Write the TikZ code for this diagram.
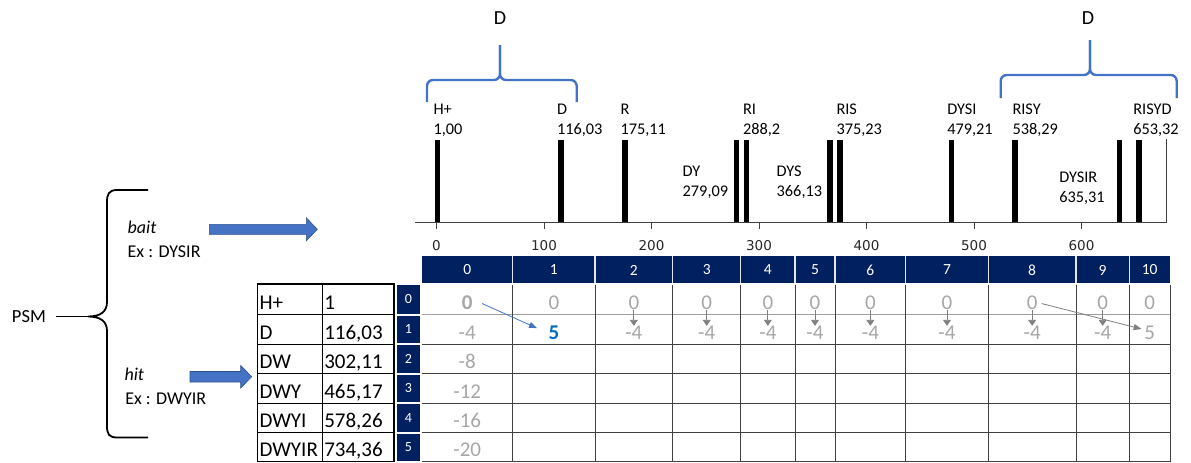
\documentclass[tikz,border=0pt]{standalone}
\usepackage{fontspec}
\setmainfont{Carlito}
\newfontfamily\tickfont{DejaVu Sans}
\usetikzlibrary{arrows.meta,calc}
\definecolor{navy}{HTML}{002060}
\definecolor{braceblue}{HTML}{4472C4}
\definecolor{arrowedge}{HTML}{2F528F}
\definecolor{valgray}{HTML}{A6A6A6}
\definecolor{arrgray}{HTML}{7F7F7F}
\definecolor{bestblue}{HTML}{0070C0}
\definecolor{gridline}{HTML}{404040}
\begin{document}
\begin{tikzpicture}[x=1pt,y=-1pt,
  every node/.style={inner sep=0pt, outer sep=0pt},
  pklabel/.style={font=\fontsize{16.3}{20}\selectfont, align=left, anchor=north west},
  peakbar/.style={fill=black},
  bluebrace/.style={draw=braceblue, line width=2.4pt, rounded corners=6pt},
  bigd/.style={font=\fontsize{20}{24}\selectfont},
  ticklbl/.style={font=\tickfont\fontsize{13.5}{16}\selectfont, text=black!85},
  hdrtxt/.style={font=\fontsize{15.5}{18}\selectfont, text=white},
  rownum/.style={font=\fontsize{14}{16}\selectfont, text=white},
  lefttxt/.style={font=\fontsize{21}{24}\selectfont, anchor=base west},
  val/.style={font=\fontsize{21}{24}\selectfont, text=valgray, anchor=base},
  downarr/.style={draw=arrgray, line width=0.9pt, -{Triangle[length=6pt,width=8pt]}},
  blockarrow/.style={fill=braceblue, draw=arrowedge, line width=0.6pt},
  sidetxt/.style={font=\fontsize{18}{22}\selectfont, anchor=base west},
]
\useasboundingbox (0,0) rectangle (1191,463);

% ---------- top: braces and D labels
\node[bigd] (dleft) at (500,18.5) {D};
\node[bigd] (dright) at (1088,18.5) {D};
\draw[bluebrace] (427,102) -- (427,80) -- (500,80) -- (500,45);
\draw[bluebrace] (576.7,102) -- (576.7,80) -- (500,80) -- (500,45);
\draw[bluebrace] (1000.7,98) -- (1000.7,75) -- (1090,75) -- (1090,40);
\draw[bluebrace] (1176.7,98) -- (1176.7,75) -- (1090,75) -- (1090,40);

% ---------- spectrum peaks
\foreach \v in {1,116.03,175.11,279.09,288.2,366.13,375.23,479.21,538.29,635.31,653.32}
  \fill[peakbar] ({436.5+1.075*\v-2.8},139.5) rectangle ({436.5+1.075*\v+2.8},222);

\node[pklabel] (lh) at (433.5,104) {H+\\1,00};
\node[pklabel] (ld) at (557,104) {D\\116,03};
\node[pklabel] (lr) at (620.5,104) {R\\175,11};
\node[pklabel] (lri) at (743,104) {RI\\288,2};
\node[pklabel] (lris) at (836.5,104) {RIS\\375,23};
\node[pklabel] (ldysi) at (947.3,104) {DYSI\\479,21};
\node[pklabel] (lrisy) at (1012.5,104) {RISY\\538,29};
\node[pklabel] (lrisyd) at (1133.3,104) {RISYD\\653,32};
\node[pklabel] (ldy) at (682.7,165.7) {DY\\279,09};
\node[pklabel] (ldys) at (776.7,165.7) {DYS\\366,13};
\node[pklabel] (ldysir) at (1059.3,171.7) {DYSIR\\635,31};

% ---------- axis
\draw[draw=black!75, line width=1pt] (415,222) -- (1166.7,222);
\draw[draw=black!75, line width=0.8pt] (1166.7,139) -- (1166.7,222);
\foreach \k/\lab in {0/0,1/100,2/200,3/300,4/400,5/500,6/600} {
  \draw[draw=black!75, line width=1pt] ({436.5+107.5*\k},222) -- ++(0,7);
  \node[ticklbl] (t\k) at ({436.5+107.5*\k},246) {\lab};
}

% ---------- header row
\foreach \a/\b/\i in {421.7/512.7/0,512.7/595/1,595/672.7/2,672.7/740.7/3,740.7/795/4,795/835/5,835/905.7/6,905.7/988.3/7,988.3/1076/8,1076/1129.3/9,1129.3/1170/10} {
  \fill[navy] (\a,255.5) rectangle (\b,282.5);
  \node[hdrtxt] (h\i) at ({(\a+\b)/2},270) {\i};
}
\foreach \x in {512.7,595,672.7,740.7,795,835,905.7,988.3,1076,1129.3}
  \draw[white!80!gray, line width=1.3pt] (\x,255.5) -- (\x,282.5);

% ---------- row-number column
\foreach \t/\b/\i in {284/314.6/0,314.6/344.3/1,344.3/373.6/2,373.6/403.2/3,403.2/432.7/4,432.7/461.8/5} {
  \fill[navy] (396.7,\t+1) rectangle (420,\b-1);
  \node[rownum] (rn\i) at (408.3,{(\t+\b)/2}) {\i};
}

% ---------- left table
\draw[black, line width=1.2pt] (257.3,284) rectangle (394,461.8);
\draw[black, line width=1.2pt] (322.7,284) -- (322.7,461.8);
\foreach \y in {314.6,344.3,373.6,403.2,432.7}
  \draw[black, line width=1.2pt] (257.3,\y) -- (394,\y);
\foreach \y/\nm/\ms/\i in {309.6/H+/1/0,339.3/D/{116,03}/1,368.6/DW/{302,11}/2,398.2/DWY/{465,17}/3,427.7/DWYI/{578,26}/4,456.8/DWYIR/{734,36}/5} {
  \node[lefttxt] (pn\i) at (259.5,\y) {\nm};
  \node[lefttxt] (pm\i) at (324.3,\y) {\ms};
}

% ---------- main grid
\draw[draw=gray!75, line width=1pt] (421.7,314.6) -- (1170,314.6);
\foreach \y in {344.3,373.6,403.2,432.7,461.8}
  \draw[draw=gridline, line width=1pt] (421.7,\y) -- (1170,\y);
\foreach \x in {512.7,595,672.7,740.7,795,835,905.7,988.3,1076,1129.3,1170}
  \draw[draw=gridline, line width=1pt] (\x,284.5) -- (\x,461.8);

% row 0
\node[val, font=\fontsize{21}{24}\selectfont\bfseries] (r0c0) at (467.2,309.6) {0};
\foreach \c/\i in {553.85/1,633.85/2,706.7/3,767.85/4,815/5,870.35/6,947/7,1032.15/8,1102.65/9,1149.65/10}
  \node[val] (r0c\i) at (\c,309.6) {0};
% row 1
\node[val] (r1c0) at (467.2,339.3) {-4};
\node[val, text=bestblue, font=\fontsize{21}{24}\selectfont\bfseries] (r1c1) at (553.85,339.3) {5};
\foreach \c/\i in {633.85/2,706.7/3,767.85/4,815/5,870.35/6,947/7,1032.15/8,1102.65/9}
  \node[val] (r1c\i) at (\c,339.3) {-4};
\node[val] (r1c10) at (1149.65,339.3) {5};
% column 0, rows 2-5
\node[val] (r2c0) at (467.2,368.6) {-8};
\node[val] (r3c0) at (467.2,398.2) {-12};
\node[val] (r4c0) at (467.2,427.7) {-16};
\node[val] (r5c0) at (467.2,456.8) {-20};

% arrows in grid
\foreach \i in {2,...,9}
  \draw[downarr] (r0c\i.south) -- (r1c\i.north);
\draw[draw=braceblue, line width=0.8pt, -{Triangle[length=8pt,width=6pt]}]
  ($(r0c0.east)+(9.5,0.7)$) -- ($(r1c1.west)+(-11.5,-4.4)$);
\draw[draw=arrgray, line width=0.8pt, -{Triangle[length=8pt,width=6pt]}]
  ($(r0c8.east)+(4.2,0.7)$) -- ($(r1c10.west)+(-2.7,-3.6)$);

% ---------- left: PSM brace, bait / hit
\node[font=\fontsize{18.5}{22}\selectfont, anchor=west] (psm) at (12,316.5) {PSM};
\coordinate (tip) at (88,316.5);
\draw[black, line width=1.8pt] ([xshift=10pt]psm.east) -- (tip);
\draw[black, line width=1.8pt] (148,190) -- (117,190) .. controls (109,190) and (107,194) .. (107,202)
  -- (107,302) .. controls (107,312) and (100,316.5) .. (tip)
  .. controls (100,316.5) and (107,321) .. (107,331)
  -- (107,426) .. controls (107,434) and (109,437.5) .. (117,437.5) -- (148,437.5);

\node[sidetxt] (bait) at (127.7,233.3) {\textit{bait}};
\node[sidetxt] (exbait) at (127.7,257.3) {Ex : DYSIR};
\node[sidetxt] (hit) at (124.5,380.7) {\textit{hit}};
\node[sidetxt] (exhit) at (125.3,404.7) {Ex : DWYIR};

\filldraw[blockarrow] (209.3,224.3) -- (306.3,224.3) -- (306.3,217.8) -- (317.3,229.3)
  -- (306.3,240.8) -- (306.3,234.3) -- (209.3,234.3) -- cycle;
\filldraw[blockarrow] (190,371.5) -- (240.7,371.5) -- (240.7,365.5) -- (251.7,376.7)
  -- (240.7,388) -- (240.7,382) -- (190,382) -- cycle;
\end{tikzpicture}
\end{document}
